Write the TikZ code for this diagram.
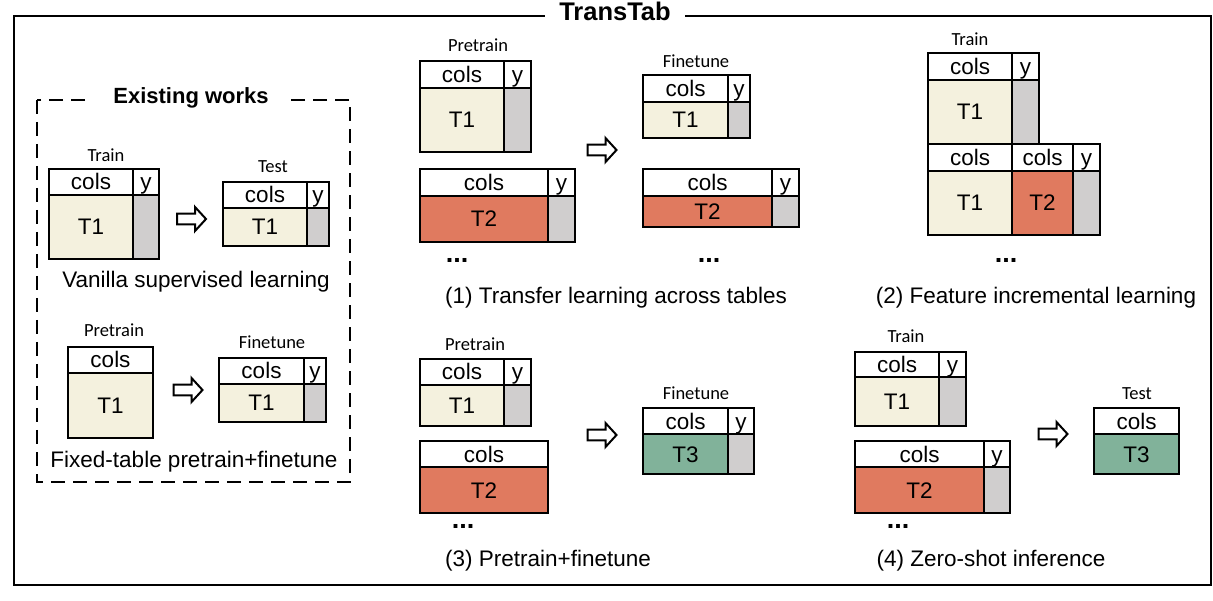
\documentclass[tikz,border=0pt]{standalone}
\usepackage{fontspec}
\setmainfont{Liberation Sans}
\newfontfamily\lblfont{Carlito}
\definecolor{cT1}{HTML}{F4F1DE}
\definecolor{cT2}{HTML}{E07A5F}
\definecolor{cT3}{HTML}{81B29A}
\definecolor{cY}{HTML}{D0CECE}
\tikzset{
  cellst/.style={draw=black, line width=2.2pt, inner sep=0pt, outer sep=0pt, text height=16pt, text depth=0pt, font=\fontsize{22.5}{24}\selectfont},
  lbl/.style={anchor=base, inner sep=0pt, font=\lblfont\fontsize{18.5}{20}\selectfont},
  capt/.style={anchor=base, inner sep=0pt, font=\fontsize{22.5}{24}\selectfont},
  dotsst/.style={anchor=center, inner sep=0pt, font=\bfseries\fontsize{27}{27}\selectfont},
  blockarrow/.style={draw=black, line width=2pt, fill=white, line join=miter},
}
\newcommand\cell[7]{\node[cellst, fill=#6, minimum width={(#4-#2)*1pt}, minimum height={(#5-#3)*1pt}] (#1) at ({(#2+#4)/2},{(#3+#5)/2}) {#7};}
\newcommand\barrow[3]{\coordinate (#1) at (#2,#3);
  \draw[blockarrow, shift={(#1)}] (-14.5,-5.3) -- (3.5,-5.3) -- (3.5,-12) -- (14.5,0) -- (3.5,12) -- (3.5,5.3) -- (-14.5,5.3) -- cycle;}
\begin{document}
\begin{tikzpicture}[x=1pt,y=-1pt]
\useasboundingbox (0,0) rectangle (1213,601);
% outer frame
\draw[line width=2pt] (14,16) rectangle (1211,585);
\node[anchor=base, fill=white, inner xsep=14pt, inner ysep=2pt, font=\bfseries\fontsize{25.5}{26}\selectfont] (title) at (615,20.5) {TransTab};
% existing works dashed box
\draw[line width=2pt, dash pattern=on 14pt off 8pt] (37,100) rectangle (350,482);
\node[anchor=base, fill=white, inner xsep=22pt, inner ysep=2pt, font=\bfseries\fontsize{22}{24}\selectfont] (ew) at (191,104) {Existing works};

% ---- Vanilla supervised learning
\node[lbl] (vtrL) at (106,162) {Train};
\cell{vtrH}{49}{169}{133}{195}{white}{cols}
\cell{vtrY}{133}{169}{159}{195}{white}{y}
\cell{vtrB}{49}{195}{133}{259}{cT1}{T1}
\cell{vtrG}{133}{195}{159}{259}{cY}{}
\barrow{va}{191.5}{219}
\node[lbl] (vteL) at (273,173) {Test};
\cell{vteH}{223}{182}{307}{208}{white}{cols}
\cell{vteY}{307}{182}{329}{208}{white}{y}
\cell{vteB}{223}{208}{307}{246}{cT1}{T1}
\cell{vteG}{307}{208}{329}{246}{cY}{}
\node[capt] (vcap) at (196,288) {Vanilla supervised learning};

% ---- Fixed-table
\node[lbl] (fpL) at (114,337) {Pretrain};
\cell{fpH}{68}{347}{153}{373}{white}{cols}
\cell{fpB}{68}{373}{153}{438}{cT1}{T1}
\barrow{fa}{188}{390}
\node[lbl] (ffL) at (272,349) {Finetune};
\cell{ffH}{219}{358}{304}{384}{white}{cols}
\cell{ffY}{304}{358}{326}{384}{white}{y}
\cell{ffB}{219}{384}{304}{422}{cT1}{T1}
\cell{ffG}{304}{384}{326}{422}{cY}{}
\node[capt] (fcap) at (194,467) {Fixed-table pretrain+finetune};

% ---- (1) Transfer learning across tables
\node[lbl] (p1pL) at (478,52) {Pretrain};
\cell{p1aH}{420}{61}{504}{88}{white}{cols}
\cell{p1aY}{504}{61}{531}{88}{white}{y}
\cell{p1aB}{420}{88}{504}{152}{cT1}{T1}
\cell{p1aG}{504}{88}{531}{152}{cY}{}
\cell{p1bH}{420}{169}{548}{196}{white}{cols}
\cell{p1bY}{548}{169}{575}{196}{white}{y}
\cell{p1bB}{420}{196}{548}{242}{cT2}{T2}
\cell{p1bG}{548}{196}{575}{242}{cY}{}
\node[dotsst] (p1d1) at (457,260) {...};
\barrow{p1a}{602}{150}
\node[lbl] (p1fL) at (696,68) {Finetune};
\cell{p1cH}{643}{75}{728}{102}{white}{cols}
\cell{p1cY}{728}{75}{750}{102}{white}{y}
\cell{p1cB}{643}{102}{728}{138}{cT1}{T1}
\cell{p1cG}{728}{102}{750}{138}{cY}{}
\cell{p1dH}{643}{169}{772}{196}{white}{cols}
\cell{p1dY}{772}{169}{799}{196}{white}{y}
\cell{p1dB}{643}{196}{772}{227}{cT2}{T2}
\cell{p1dG}{772}{196}{799}{227}{cY}{}
\node[dotsst] (p1d2) at (709,260) {...};
\node[capt] (p1cap) at (616,304) {(1) Transfer learning across tables};

% ---- (2) Feature incremental learning
\node[lbl] (p2L) at (970,46) {Train};
\cell{p2aH}{928}{53}{1012}{80}{white}{cols}
\cell{p2aY}{1012}{53}{1039}{80}{white}{y}
\cell{p2aB}{928}{80}{1012}{144}{cT1}{T1}
\cell{p2aG}{1012}{80}{1039}{144}{cY}{}
\cell{p2bH}{928}{144}{1012}{171}{white}{cols}
\cell{p2bH2}{1012}{144}{1073}{171}{white}{cols}
\cell{p2bY}{1073}{144}{1100}{171}{white}{y}
\cell{p2bB}{928}{171}{1012}{235}{cT1}{T1}
\cell{p2bB2}{1012}{171}{1073}{235}{cT2}{T2}
\cell{p2bG}{1073}{171}{1100}{235}{cY}{}
\node[dotsst] (p2d) at (1006,260) {...};
\node[capt] (p2cap) at (1036,304) {(2) Feature incremental learning};

% ---- (3) Pretrain+finetune
\node[lbl] (p3pL) at (475,351) {Pretrain};
\cell{p3aH}{420}{359}{504}{385}{white}{cols}
\cell{p3aY}{504}{359}{531}{385}{white}{y}
\cell{p3aB}{420}{385}{504}{426}{cT1}{T1}
\cell{p3aG}{504}{385}{531}{426}{cY}{}
\cell{p3bH}{420}{441}{548}{467}{white}{cols}
\cell{p3bB}{420}{467}{548}{513}{cT2}{T2}
\node[dotsst] (p3d) at (463,526) {...};
\barrow{p3a}{602}{435}
\node[lbl] (p3fL) at (696,400) {Finetune};
\cell{p3cH}{643}{408}{728}{434}{white}{cols}
\cell{p3cY}{728}{408}{754}{434}{white}{y}
\cell{p3cB}{643}{434}{728}{474}{cT3}{T3}
\cell{p3cG}{728}{434}{754}{474}{cY}{}
\node[capt] (p3cap) at (548,566) {(3) Pretrain+finetune};

% ---- (4) Zero-shot inference
\node[lbl] (p4L) at (906,343) {Train};
\cell{p4aH}{855}{352}{939}{377}{white}{cols}
\cell{p4aY}{939}{352}{966}{377}{white}{y}
\cell{p4aB}{855}{377}{939}{426}{cT1}{T1}
\cell{p4aG}{939}{377}{966}{426}{cY}{}
\cell{p4bH}{855}{441}{984}{467}{white}{cols}
\cell{p4bY}{984}{441}{1010}{467}{white}{y}
\cell{p4bB}{855}{467}{984}{513}{cT2}{T2}
\cell{p4bG}{984}{467}{1010}{513}{cY}{}
\node[dotsst] (p4d) at (898,526) {...};
\barrow{p4a}{1053}{434}
\node[lbl] (p4tL) at (1137,400) {Test};
\cell{p4cH}{1094}{408}{1179}{434}{white}{cols}
\cell{p4cB}{1094}{434}{1179}{474}{cT3}{T3}
\node[capt] (p4cap) at (991,566) {(4) Zero-shot inference};
\end{tikzpicture}
\end{document}
